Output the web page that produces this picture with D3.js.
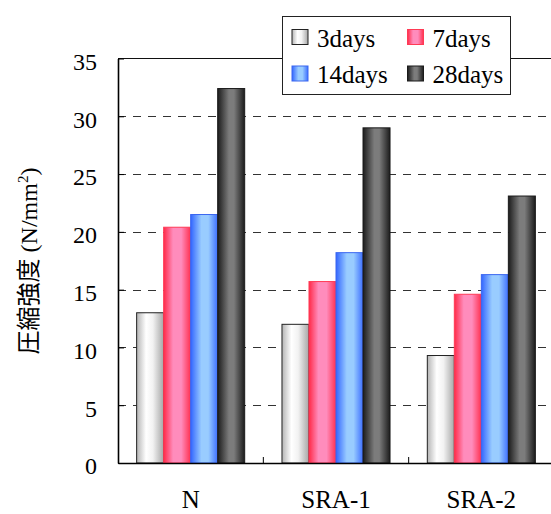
<!DOCTYPE html>
<html>
<head>
<meta charset="utf-8">
<script src="https://cdn.jsdelivr.net/npm/d3@7"></script>
<style>
  html, body { margin: 0; padding: 0; background: #fff; }
  svg { display: block; }
  svg text.serif, svg tspan.serif {
    font-family: "Liberation Serif", "Tinos", "Times New Roman", "Times", "Nimbus Roman",
                 "Nimbus Roman No9 L", "DejaVu Serif", "Noto Serif", "FreeSerif",
                 "Noto Serif CJK JP", serif;
  }
  svg tspan.cjk { font-family: "Noto Sans CJK JP", sans-serif; }
</style>
</head>
<body>
<svg id="chart" width="551" height="514"></svg>
<script>
// Compressive strength by mix and curing age
const categories = ["N", "SRA-1", "SRA-2"];
const seriesNames = ["3days", "7days", "14days", "28days"];
const days3  = [13.0, 12.0, 9.3];
const days7  = [20.4, 15.7, 14.6];
const days14 = [21.5, 18.2, 16.3];
const days28 = [32.4, 29.0, 23.1];
const yTicks = [0, 5, 10, 15, 20, 25, 30, 35];

const seriesValues = [days3, days7, days14, days28];

// horizontal shading for each series: [offset, colour]
const shades = {
  "3days":  { stroke: "#222", stops: [[0, "#b4b4b4"], [0.35, "#ffffff"], [0.6, "#f2f2f2"], [1, "#a6a6a6"]] },
  "7days":  { stroke: "#ff3a55", stops: [[0, "#ff2a48"], [0.35, "#ff8cbc"], [0.65, "#ff8cbc"], [1, "#ff3050"]] },
  "14days": { stroke: "#3a66f0", stops: [[0, "#3366ff"], [0.4, "#99ccff"], [0.65, "#99ccff"], [1, "#3d6fff"]] },
  "28days": { stroke: "#1a1a1a", stops: [[0, "#1c1c1c"], [0.42, "#7c7c7c"], [0.6, "#7c7c7c"], [1, "#1c1c1c"]] }
};

const svg = d3.select("#chart");
const W = 551;
const plotLeft = 118, plotRight = 554, plotTop = 58.5, plotBottom = 463;

const defs = svg.append("defs");
seriesNames.forEach((s, i) => {
  const g = defs.append("linearGradient")
    .attr("id", "grad" + i)
    .attr("x1", "0").attr("x2", "1").attr("y1", "0").attr("y2", "0");
  shades[s].stops.forEach(([o, c]) => g.append("stop").attr("offset", o).attr("stop-color", c));
});

const x0 = d3.scaleBand().domain(categories).range([plotLeft, plotRight]).paddingInner(0).paddingOuter(0);
const x1 = d3.scaleBand().domain(seriesNames).range([0, x0.bandwidth()]).paddingInner(0).paddingOuter(0.69);
const y = d3.scaleLinear().domain([0, 35]).range([plotBottom, plotTop]);

// dashed gridlines
svg.append("g")
  .selectAll("line")
  .data(yTicks.filter(t => t > 0 && t < 35))
  .join("line")
  .attr("x1", plotLeft).attr("x2", W)
  .attr("y1", d => Math.round(y(d)) + 0.5).attr("y2", d => Math.round(y(d)) + 0.5)
  .attr("stroke", "#333").attr("stroke-width", 1)
  .attr("stroke-dasharray", "8,7");

// top frame line
svg.append("line")
  .attr("x1", plotLeft).attr("x2", W)
  .attr("y1", y(35)).attr("y2", y(35))
  .attr("stroke", "#111").attr("stroke-width", 1.2);

// bars
const groups = svg.append("g")
  .selectAll("g")
  .data(categories)
  .join("g")
  .attr("transform", d => `translate(${x0(d)},0)`);

groups.selectAll("rect")
  .data((c, ci) => seriesNames.map((s, si) => ({ s, si, v: seriesValues[si][ci] })))
  .join("rect")
  .attr("x", d => x1(d.s))
  .attr("y", d => y(d.v))
  .attr("width", x1.bandwidth())
  .attr("height", d => y(0) - y(d.v))
  .attr("fill", d => `url(#grad${d.si})`)
  .attr("stroke", d => shades[d.s].stroke)
  .attr("stroke-width", 1);

// y axis
const yAxis = d3.axisLeft(y).tickValues(yTicks).tickSizeInner(-6).tickSizeOuter(0).tickPadding(21);
const gy = svg.append("g").attr("transform", `translate(${plotLeft},0)`).call(yAxis);
gy.attr("font-family", null).attr("font-size", null);
gy.select(".domain").attr("stroke", "#000").attr("stroke-width", 1.6);
gy.selectAll(".tick line").attr("stroke", "#000");
gy.selectAll(".tick text")
  .attr("class", "serif").attr("font-size", 24).attr("fill", "#000")
  .attr("dy", "0.45em");

// x axis baseline with category separators
const xAxis = d3.axisBottom(x0).tickSize(0).tickPadding(27);
const gx = svg.append("g").attr("transform", `translate(0,${plotBottom})`).call(xAxis);
gx.attr("font-family", null).attr("font-size", null);
gx.select(".domain").attr("stroke", "#000").attr("stroke-width", 1.6);
gx.selectAll(".tick text")
  .attr("class", "serif").attr("font-size", 25).attr("fill", "#000")
  .attr("dy", "0.71em");

svg.append("g")
  .selectAll("line")
  .data(categories.slice(1))
  .join("line")
  .attr("x1", d => x0(d)).attr("x2", d => x0(d))
  .attr("y1", plotBottom).attr("y2", plotBottom - 6)
  .attr("stroke", "#000").attr("stroke-width", 1);

// y axis title
svg.append("text")
  .attr("transform", `translate(37,261) rotate(-90)`)
  .attr("text-anchor", "middle")
  .attr("font-size", 24)
  .attr("fill", "#000")
  .call(t => {
    t.append("tspan").attr("class", "cjk").text("圧縮強度");
    t.append("tspan").attr("class", "serif").text(" (N/mm");
    t.append("tspan").attr("class", "serif").attr("font-size", 15).attr("dy", "-0.6em").text("2");
    t.append("tspan").attr("class", "serif").attr("dy", "0.38em").text(")");
  });

// legend
const lg = svg.append("g");
lg.append("rect")
  .attr("x", 282.5).attr("y", 16.5).attr("width", 228).attr("height", 78)
  .attr("fill", "#fff").attr("stroke", "#222").attr("stroke-width", 1);

const legendPos = [
  { sx: 292, ty: 29.5 }, { sx: 407.5, ty: 29.5 },
  { sx: 292, ty: 66 },   { sx: 407.5, ty: 66 }
];
seriesNames.forEach((s, i) => {
  const p = legendPos[i];
  lg.append("rect")
    .attr("x", p.sx).attr("y", p.ty).attr("width", 16).attr("height", 15)
    .attr("fill", `url(#grad${i})`).attr("stroke", shades[s].stroke).attr("stroke-width", 1);
  lg.append("text")
    .attr("x", p.sx + 25).attr("y", p.ty + 17)
    .attr("class", "serif").attr("font-size", 25).attr("fill", "#000")
    .text(s);
});
</script>
</body>
</html>
